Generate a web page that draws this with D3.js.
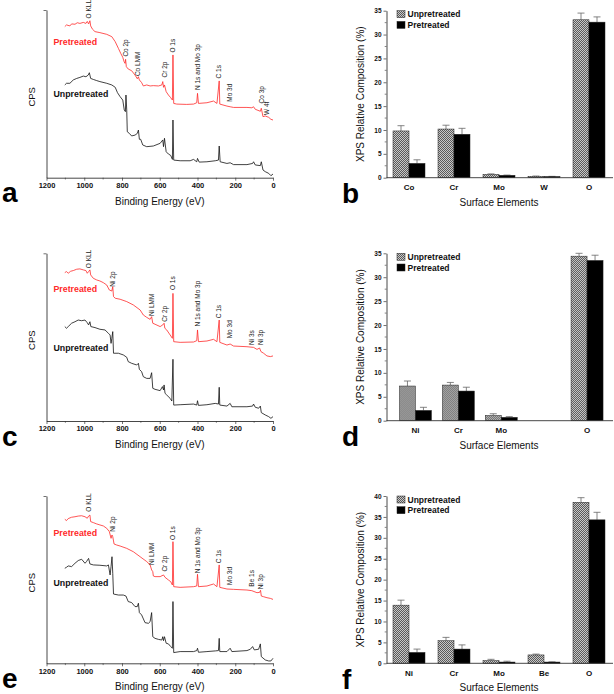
<!DOCTYPE html>
<html><head><meta charset="utf-8">
<script src="https://cdn.jsdelivr.net/npm/d3@7"></script>
<style>body{margin:0;background:#fff}</style>
</head><body><svg id="c" width="614" height="694" xmlns="http://www.w3.org/2000/svg"></svg>
<script>
// ---------------- DATA ----------------
const energyTicks = [1200, 1000, 800, 600, 400, 200, 0];

// XPS survey spectra: [binding energy (eV), intensity (arb. units, 0-100 of axis)]
const aPre = [[1103,90.1],[1094,91.1],[1076,90.5],[1067,91.7],[1049,91.5],[1037,92.4],[1023,92.0],[1005,92.6],[991,92.0],[984,93.2],[977,91.7],[970,93.6],[966,90.5],[956,88.5],[943,87.1],[917,86.5],[881,85.5],[854,84.1],[836,81.1],[819,77.1],[807,74.2],[796,71.8],[789,69.2],[784,68.2],[781,70.6],[777,66.2],[767,64.8],[749,63.8],[731,61.2],[719,59.0],[713,60.2],[708,58.3],[696,56.7],[687,54.7],[669,55.3],[651,54.7],[634,54.9],[607,54.7],[589,55.3],[584,57.3],[580,53.9],[575,55.3],[566,51.3],[554,49.3],[542,47.7],[533,46.3],[530,73.2],[526,44.3],[510,43.9],[457,43.7],[421,43.9],[404,44.7],[400,50.3],[395,44.3],[350,44.7],[315,45.7],[297,44.3],[285,57.7],[282,43.9],[244,42.7],[227,42.3],[209,41.9],[138,41.9],[112,41.7],[103,42.3],[94,40.8],[67,39.6],[62,41.4],[53,36.4],[41,36.8],[23,36.0],[11,34.8],[0,34.4]];
const aUn = [[1103,55.3],[1094,56.3],[1076,56.3],[1058,58.3],[1040,59.2],[1023,59.8],[1005,60.6],[991,60.2],[979,61.2],[973,62.6],[966,59.2],[952,58.6],[934,57.9],[917,57.3],[881,56.3],[854,55.3],[836,53.9],[824,50.7],[810,48.3],[796,46.3],[788,40.4],[782,39.4],[779,49.3],[775,40.4],[772,27.4],[761,26.4],[749,24.9],[731,25.4],[719,26.4],[713,28.4],[708,22.9],[701,22.9],[690,19.5],[669,18.5],[634,18.9],[598,20.5],[584,22.5],[580,18.5],[575,23.5],[566,15.5],[554,14.1],[542,13.3],[533,10.9],[530,34.4],[526,10.5],[492,10.1],[439,10.1],[421,10.9],[404,9.5],[400,11.5],[391,9.3],[350,9.5],[306,10.1],[289,10.5],[285,18.9],[280,9.5],[244,8.5],[227,8.9],[209,7.8],[138,7.8],[108,8.5],[103,9.5],[94,7.6],[67,7.2],[62,9.5],[53,4.6],[41,3.6],[23,2.6],[11,1.2],[0,2.2]];
const cPre = [[1103,88.5],[1094,89.1],[1085,88.1],[1072,89.3],[1058,89.7],[1040,90.5],[1023,90.7],[1005,90.1],[991,89.7],[984,88.1],[977,89.1],[970,90.1],[966,87.1],[952,85.1],[934,84.1],[917,83.5],[899,82.5],[881,81.1],[867,78.1],[854,77.5],[849,80.1],[845,74.2],[836,73.2],[810,72.6],[775,71.2],[740,69.2],[704,66.2],[687,63.2],[669,61.8],[651,60.6],[643,62.2],[637,58.3],[625,57.7],[598,56.3],[584,57.3],[577,58.3],[573,55.3],[563,54.3],[545,51.3],[533,49.3],[530,76.1],[526,47.3],[492,46.9],[421,47.1],[404,47.9],[400,54.3],[395,47.3],[350,47.7],[315,48.7],[297,47.3],[285,60.2],[282,46.9],[244,45.3],[227,45.9],[209,44.7],[138,44.3],[103,43.9],[85,42.7],[71,43.5],[64,41.4],[50,40.4],[32,38.8],[14,38.4],[0,38.8]];
const cUn = [[1103,56.3],[1094,55.3],[1085,56.3],[1067,58.3],[1049,59.2],[1032,60.2],[1014,59.8],[996,60.2],[984,58.6],[977,57.3],[970,59.2],[965,56.3],[943,55.7],[917,54.7],[890,54.3],[872,52.3],[863,51.3],[858,46.3],[854,49.3],[849,53.3],[845,40.4],[819,40.4],[793,39.4],[775,38.0],[767,35.4],[749,34.4],[722,33.4],[713,34.4],[708,30.8],[696,29.4],[687,26.4],[669,25.4],[651,25.4],[643,28.8],[637,19.5],[625,18.9],[598,18.1],[586,20.5],[580,18.5],[577,21.5],[572,16.5],[563,15.5],[545,13.5],[536,11.9],[530,36.8],[526,9.5],[492,9.7],[421,10.1],[404,9.5],[400,12.1],[395,9.3],[350,9.7],[306,10.5],[289,10.1],[285,20.1],[282,9.5],[244,8.9],[227,10.5],[218,8.5],[138,8.5],[108,8.9],[103,10.1],[94,8.2],[76,7.6],[67,8.9],[62,5.0],[41,3.6],[23,2.6],[11,1.6],[0,2.6]];
const ePre = [[1103,86.1],[1094,85.3],[1085,86.5],[1067,87.3],[1049,87.6],[1032,88.0],[1014,88.2],[996,87.6],[984,86.7],[977,88.0],[970,88.6],[966,84.7],[952,84.1],[934,83.3],[917,82.7],[899,82.1],[881,80.7],[867,78.7],[858,74.7],[853,76.7],[849,75.7],[842,71.3],[828,70.7],[810,70.1],[775,68.7],[740,66.7],[704,63.7],[669,60.8],[651,58.8],[643,55.8],[637,54.8],[634,52.2],[625,51.8],[598,51.8],[580,52.8],[572,51.4],[554,49.8],[542,48.8],[533,46.8],[530,72.7],[526,45.8],[492,45.4],[421,45.8],[404,46.2],[400,53.2],[395,45.8],[350,46.2],[315,47.4],[297,45.8],[285,58.8],[282,45.4],[244,44.4],[209,44.2],[138,43.8],[112,43.4],[85,42.2],[71,42.4],[66,43.6],[62,40.2],[50,39.8],[32,39.2],[14,38.8],[0,38.2]];
const eUn = [[1103,56.8],[1094,57.4],[1085,58.2],[1067,57.8],[1049,59.8],[1032,61.4],[1014,62.2],[996,59.8],[988,60.8],[977,62.7],[970,59.4],[952,58.8],[917,58.6],[881,58.2],[872,58.8],[863,52.8],[858,57.8],[853,63.7],[849,53.8],[845,41.4],[819,40.8],[793,40.8],[779,40.2],[767,36.9],[749,36.3],[731,33.9],[719,33.9],[713,35.9],[708,30.3],[696,28.9],[678,24.3],[660,23.9],[651,24.9],[643,30.3],[637,15.9],[625,14.9],[607,14.3],[589,13.9],[584,15.9],[580,13.5],[575,15.9],[566,12.0],[554,11.6],[542,10.0],[533,9.0],[530,36.9],[526,6.4],[492,7.0],[421,7.0],[404,7.6],[400,9.0],[395,6.6],[350,7.0],[306,7.4],[289,7.6],[285,14.9],[282,7.0],[244,7.0],[227,9.0],[218,7.0],[138,7.6],[120,8.4],[108,10.0],[99,8.0],[76,8.4],[67,11.6],[62,4.0],[41,2.0],[23,1.4],[11,1.4],[0,3.0]];

// Peak annotations: [label, energy (eV), label-start level (arb. units)]
const aLabels = [["O KLL",975,95],["Co 2p",778,72.2],["Co LMM",715,60.6],["Cr 2p",575,59.8],["O 1s",531,74.6],["N 1s and Mo 3p",400,52.3],["C 1s",285,59.2],["Mo 3d",228,45.3],["Co 3p",60,44.3],["W 4f",35,37.4]];
const cLabels = [["O KLL",975,91.1],["Ni 2p",850,80.1],["Ni LMM",640,62.6],["Cr 2p",575,59.2],["O 1s",531,78.1],["N 1s and Mo 3p",400,56.3],["C 1s",285,61.2],["Mo 3d",228,49.3],["Ni 3s",112,45.3],["Ni 3p",67,45.3]];
const eLabels = [["O KLL",975,90.6],["Ni 2p",850,78.7],["Ni LMM",640,58.8],["Cr 2p",575,54.8],["O 1s",531,73.7],["N 1s and Mo 3p",400,53.8],["C 1s",285,59.8],["Mo 3d",228,46.8],["Be 1s",112,45.8],["Ni 3p",67,44.2]];

// XPS relative composition (%)
const bCats = ["Co", "Cr", "Mo", "W", "O"];
const bUn = [9.8, 10.2, 0.7, 0.3, 33.1];
const bUnErr = [1.1, 0.8, 0.1, 0.05, 1.4];
const bPre = [3.0, 9.1, 0.5, 0.25, 32.6];
const bPreErr = [0.75, 1.25, 0.05, 0.03, 1.1];
const bTicks = [0, 5, 10, 15, 20, 25, 30, 35];

const dCats = ["Ni", "Cr", "Mo", "O"];
const dUn = [7.25, 7.45, 1.1, 34.4];
const dUnErr = [1.05, 0.55, 0.35, 0.6];
const dPre = [2.15, 6.2, 0.7, 33.5];
const dPreErr = [0.65, 0.8, 0.15, 1.1];
const dTicks = [0, 5, 10, 15, 20, 25, 30, 35];

const fCats = ["Ni", "Cr", "Mo", "Be", "O"];
const fUn = [13.9, 5.4, 0.65, 2.0, 38.5];
const fUnErr = [1.2, 0.8, 0.3, 0.2, 1.1];
const fPre = [2.6, 3.4, 0.3, 0.3, 34.3];
const fPreErr = [0.8, 1.0, 0.2, 0.05, 1.8];
const fTicks = [0, 5, 10, 15, 20, 25, 30, 35, 40];

const seriesNames = ["Unpretreated", "Pretreated"];

// ---------------- DRAW ----------------
const FONT = "'Liberation Sans', Arial, Helvetica, sans-serif";
const RED = "#ff2a2a";
const AX = "#333";
const svg = d3.select("#c");
svg.append("rect").attr("width", 614).attr("height", 694).attr("fill", "#fff");

const defs = svg.append("defs");
const pat = defs.append("pattern").attr("id", "chk").attr("width", 2).attr("height", 2).attr("patternUnits", "userSpaceOnUse");
pat.append("rect").attr("width", 2).attr("height", 2).attr("fill", "#c8c8c8");
pat.append("rect").attr("width", 1).attr("height", 1).attr("fill", "#5a5a5a");
pat.append("rect").attr("x", 1).attr("y", 1).attr("width", 1).attr("height", 1).attr("fill", "#5a5a5a");

function styleAxis(g, size) {
  g.select(".domain").attr("stroke", AX).attr("stroke-width", 0.9);
  g.selectAll(".tick line").attr("stroke", AX).attr("stroke-width", 0.7);
  g.selectAll("text").attr("font-family", FONT).attr("font-size", size).attr("font-weight", "bold").attr("fill", "#111");
}

// Spectrum panels
const specPanels = [
  { letter: "a", top: 10, bottom: 177.7, pre: aPre, un: aUn, labels: aLabels, preY: 42, unY: 94.3 },
  { letter: "c", top: 253.3, bottom: 421, pre: cPre, un: cUn, labels: cLabels, preY: 289.3, unY: 348.3 },
  { letter: "e", top: 496, bottom: 663.3, pre: ePre, un: eUn, labels: eLabels, preY: 532.7, unY: 582.7 }
];
const X0 = 46.5, X1 = 273;
specPanels.forEach(p => {
  const x = d3.scaleLinear().domain([1200, 0]).range([X0, X1]);
  const y = d3.scaleLinear().domain([0, 100]).range([p.bottom, p.top]);
  const g = svg.append("g");
  const line = d3.line().x(d => x(d[0])).y(d => y(d[1]));
  g.append("path").datum(p.un).attr("d", line).attr("fill", "none").attr("stroke", "#111").attr("stroke-width", 0.8).attr("stroke-linejoin", "round");
  g.append("path").datum(p.pre).attr("d", line).attr("fill", "none").attr("stroke", RED).attr("stroke-width", 0.8).attr("stroke-linejoin", "round");

  const gx = g.append("g").attr("transform", `translate(0,${p.bottom})`)
    .call(d3.axisBottom(x).tickValues(energyTicks).tickSize(3).tickSizeOuter(0).tickPadding(2).tickFormat(d3.format("d")));
  styleAxis(gx, 7.5);
  g.append("g").selectAll("line").data(d3.range(100, 1200, 200)).join("line")
    .attr("x1", d => x(d)).attr("x2", d => x(d)).attr("y1", p.bottom).attr("y2", p.bottom + 1.8)
    .attr("stroke", AX).attr("stroke-width", 0.6);
  const gy = g.append("g").attr("transform", `translate(${X0},0)`)
    .call(d3.axisLeft(y).tickValues([100]).tickSize(3).tickSizeOuter(0).tickFormat(""));
  styleAxis(gy, 7);

  // peak labels
  g.selectAll("text.pk").data(p.labels).join("text").attr("class", "pk")
    .attr("transform", d => `translate(${x(d[1])},${y(d[2])}) rotate(-90)`)
    .attr("dy", "0.35em").attr("font-family", FONT).attr("font-size", 6.5).attr("fill", "#222")
    .text(d => d[0]);

  g.append("text").attr("x", 53.5).attr("y", p.preY).attr("dy", "0.35em").attr("font-family", FONT)
    .attr("font-size", 8.8).attr("font-weight", "bold").attr("fill", RED).text(seriesNames[1]);
  g.append("text").attr("x", 53.5).attr("y", p.unY).attr("dy", "0.35em").attr("font-family", FONT)
    .attr("font-size", 8.8).attr("font-weight", "bold").attr("fill", "#111").text(seriesNames[0]);

  g.append("text").attr("transform", `translate(32,${(p.top + p.bottom) / 2 + 3}) rotate(-90)`)
    .attr("text-anchor", "middle").attr("dy", "0.35em").attr("font-family", FONT).attr("font-size", 9.5).attr("fill", "#111").text("CPS");
  g.append("text").attr("x", (X0 + X1) / 2).attr("y", p.bottom + 27).attr("text-anchor", "middle")
    .attr("font-family", FONT).attr("font-size", 10).attr("fill", "#111").text("Binding Energy (eV)");
  g.append("text").attr("x", 2).attr("y", p.bottom + 24.5).attr("font-family", FONT)
    .attr("font-size", 28).attr("font-weight", "bold").attr("fill", "#000").text(p.letter);
});

// Bar panels
const barPanels = [
  { letter: "b", top: 10.7, bottom: 177.7, max: 35, ticks: bTicks, cats: bCats, slots: bCats, range: [386.5, 611.5], un: bUn, unErr: bUnErr, pre: bPre, preErr: bPreErr, lb: 25 },
  { letter: "d", top: 253.3, bottom: 420.7, max: 35, ticks: dTicks, cats: dCats, slots: ["Ni", "Cr", "Mo", " ", "O"], range: [394, 608.5], un: dUn, unErr: dUnErr, pre: dPre, preErr: dPreErr, lb: 25 },
  { letter: "f", top: 496, bottom: 663.3, max: 40, ticks: fTicks, cats: fCats, slots: fCats, range: [386.5, 611.5], un: fUn, unErr: fUnErr, pre: fPre, preErr: fPreErr, lb: 26 }
];
const YX = 386.5, XR = 613, BW = 16;
barPanels.forEach(p => {
  const x = d3.scaleBand().domain(p.slots).range(p.range).padding(0);
  const inner = d3.scaleBand().domain(seriesNames).range([-BW, BW]);
  const y = d3.scaleLinear().domain([0, p.max]).range([p.bottom, p.top]);
  const g = svg.append("g");

  const rows = p.cats.map((c, i) => ({ c, vals: [[seriesNames[0], p.un[i], p.unErr[i]], [seriesNames[1], p.pre[i], p.preErr[i]]] }));
  const grp = g.selectAll("g.cat").data(rows).join("g").attr("class", "cat")
    .attr("transform", d => `translate(${x(d.c) + x.bandwidth() / 2},0)`);
  grp.selectAll("line.eb").data(d => d.vals).join("line").attr("class", "eb")
    .attr("x1", d => inner(d[0]) + BW / 2).attr("x2", d => inner(d[0]) + BW / 2)
    .attr("y1", d => y(d[1])).attr("y2", d => y(d[1] + d[2])).attr("stroke", "#666").attr("stroke-width", 0.8);
  grp.selectAll("line.cap").data(d => d.vals).join("line").attr("class", "cap")
    .attr("x1", d => inner(d[0]) + BW / 2 - 3.5).attr("x2", d => inner(d[0]) + BW / 2 + 3.5)
    .attr("y1", d => y(d[1] + d[2])).attr("y2", d => y(d[1] + d[2])).attr("stroke", "#666").attr("stroke-width", 0.8);
  grp.selectAll("rect").data(d => d.vals).join("rect")
    .attr("x", d => inner(d[0])).attr("width", inner.bandwidth())
    .attr("y", d => y(d[1])).attr("height", d => p.bottom - y(d[1]))
    .attr("fill", d => d[0] === seriesNames[0] ? "url(#chk)" : "#000")
    .attr("stroke", "#222").attr("stroke-width", 0.5);

  // axes
  const gy = g.append("g").attr("transform", `translate(${YX},0)`)
    .call(d3.axisLeft(y).tickValues(p.ticks).tickSize(3).tickSizeOuter(0).tickPadding(2));
  styleAxis(gy, 6.5);
  g.append("g").selectAll("line").data(p.ticks.slice(1).map(t => t - 2.5)).join("line")
    .attr("x1", YX).attr("x2", YX - 1.8).attr("y1", d => y(d)).attr("y2", d => y(d)).attr("stroke", AX).attr("stroke-width", 0.6);
  g.append("line").attr("x1", YX).attr("x2", XR).attr("y1", p.bottom).attr("y2", p.bottom).attr("stroke", AX).attr("stroke-width", 0.9);
  g.selectAll("text.cl").data(p.cats).join("text").attr("class", "cl")
    .attr("x", d => x(d) + x.bandwidth() / 2).attr("y", p.bottom + 12.3).attr("text-anchor", "middle")
    .attr("font-family", FONT).attr("font-size", 8).attr("font-weight", "bold").attr("fill", "#111").text(d => d);

  // legend
  const lg = g.append("g");
  seriesNames.forEach((s, i) => {
    const ly = p.top + i * 10.7;
    lg.append("rect").attr("x", 397).attr("y", ly).attr("width", 8).attr("height", 7)
      .attr("fill", i === 0 ? "url(#chk)" : "#000").attr("stroke", "#222").attr("stroke-width", 0.5);
    lg.append("text").attr("x", 407.5).attr("y", ly + 3.6).attr("dy", "0.35em").attr("font-family", FONT)
      .attr("font-size", 8.5).attr("font-weight", "bold").attr("fill", "#111").text(s);
  });

  g.append("text").attr("transform", `translate(360,${(p.top + p.bottom) / 2}) rotate(-90)`)
    .attr("text-anchor", "middle").attr("dy", "0.35em").attr("font-family", FONT).attr("font-size", 10).attr("fill", "#111")
    .text("XPS Relative Composition (%)");
  g.append("text").attr("x", 499).attr("y", p.bottom + 27.8).attr("text-anchor", "middle")
    .attr("font-family", FONT).attr("font-size", 10).attr("fill", "#111").text("Surface Elements");
  g.append("text").attr("x", 342).attr("y", p.bottom + p.lb).attr("font-family", FONT)
    .attr("font-size", 28).attr("font-weight", "bold").attr("fill", "#000").text(p.letter);
});
</script>
</body></html>
